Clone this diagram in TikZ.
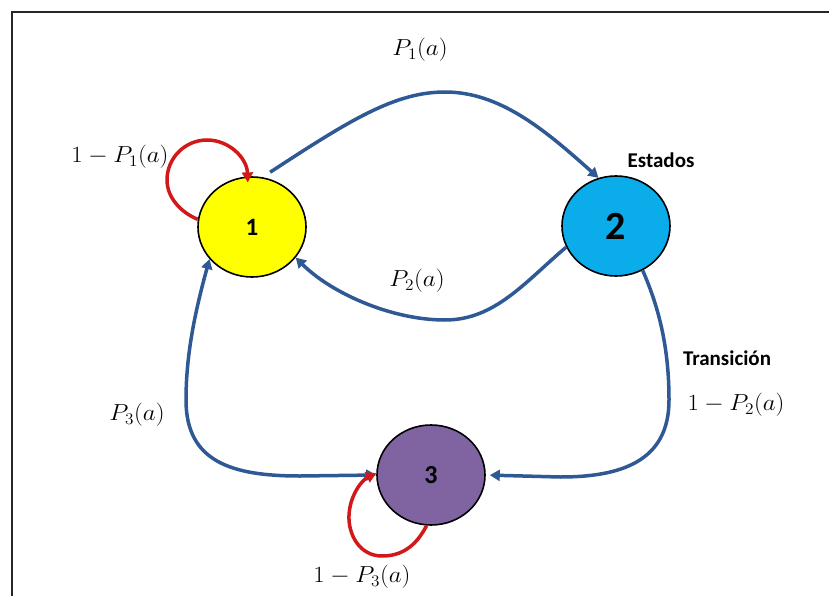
\documentclass[tikz,border=0pt]{standalone}
\usepackage{fontspec}
\newfontfamily\carl{Carlito}
\usetikzlibrary{shapes.geometric,arrows.meta}
\definecolor{eblue}{RGB}{46,89,148}
\definecolor{ered}{RGB}{210,25,25}
\definecolor{syellow}{RGB}{255,255,0}
\definecolor{scyan}{RGB}{10,172,234}
\definecolor{spurple}{RGB}{128,100,162}
\begin{document}
\begin{tikzpicture}[x=1pt,y=-1pt,
  state/.style={ellipse, draw=black, line width=1.6pt, minimum width=108pt, minimum height=100pt, inner sep=0pt},
  arr/.style={draw=eblue, line width=3.5pt, -{Triangle[length=10pt,width=11pt]}},
  arrboth/.style={draw=eblue, line width=3.5pt, {Triangle[length=10pt,width=11pt]}-{Triangle[length=10pt,width=11pt]}},
  loopc/.style={draw=ered, line width=3.5pt, -{Triangle[length=10pt,width=11pt]}},
  lab/.style={font=\fontsize{20.74}{24}\selectfont, inner sep=0pt, xscale=1.2, yscale=1.12},
  blab/.style={font=\carl\bfseries\fontsize{21}{24}\selectfont, inner sep=0pt}]
\useasboundingbox (0,0) rectangle (829,596);
\fill[white] (0,0) rectangle (829,596);
\draw[line width=2pt, black!85] (11.5,600) -- (11.5,12.5) -- (835,12.5);

\node[state, fill=syellow] (n1) at (252,227) {\carl\bfseries\fontsize{25}{28}\selectfont 1};
\node[state, fill=scyan] (n2) at (616,226) {\carl\bfseries\fontsize{40}{44}\selectfont 2};
\node[state, fill=spurple] (n3) at (431,475) {\carl\bfseries\fontsize{26}{30}\selectfont 3};

% 1 -> 2
\draw[arr, shorten <=9pt] (n1.78) .. controls (350,120) and (395,92) .. (445,92)
  .. controls (500,92) and (545,130) .. (n2.110);
% 2 -> 1
\draw[arr] (n2.203) .. controls (525,282) and (495,320) .. (445,320)
  .. controls (390,320) and (330,292) .. (n1.-35);
% 1 <-> 3
\draw[arrboth] (n1.217) .. controls (197,305) and (186,350) .. (186,400)
  .. controls (186,462) and (232,476) .. (300,476) -- (n3.180);
% 2 -> 3
\draw[arr, shorten >=4pt] (n2.-59) .. controls (660,310) and (669,350) .. (669,400)
  .. controls (669,462) and (620,477) .. (560,477) -- (n3.0);
% self loops
\draw[loopc, shorten >=-6pt] (n1.172) .. controls (180,212) and (167,197) .. (167,180)
  .. controls (167,158) and (185,140) .. (207,140)
  .. controls (229,140) and (247,158) .. (n1.95);
\draw[loopc] (n3.-95) .. controls (415,548) and (400,556) .. (382,556)
  .. controls (360,556) and (348,535) .. (349,515)
  .. controls (350,495) and (362,480) .. (n3.178);

% labels
\node[lab] (l1) at (420,50) {$P_1(a)$};
\node[lab] (l11) at (120,157) {$1-P_1(a)$};
\node[blab] (est) at (661,160) {Estados};
\node[lab] (l2) at (417,281) {$P_2(a)$};
\node[blab] (tra) at (727,358) {Transición};
\node[lab] (l22) at (736,405) {$1-P_2(a)$};
\node[lab] (l3) at (137,415) {$P_3(a)$};
\node[lab] (l33) at (362,577) {$1-P_3(a)$};
\end{tikzpicture}
\end{document}
